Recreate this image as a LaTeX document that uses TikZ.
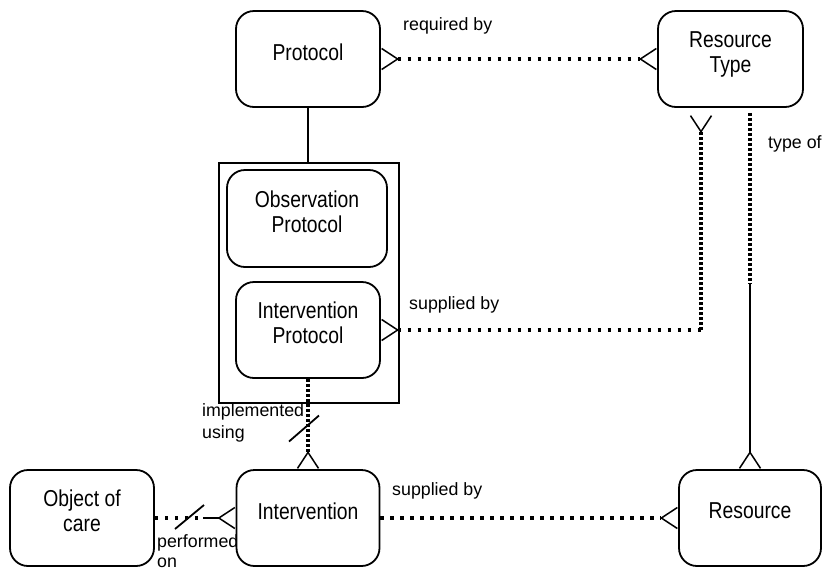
\documentclass[tikz,border=0pt]{standalone}
\usepackage{fontspec}
\setmainfont{Liberation Sans}
\newfontfamily\entfont[FakeStretch=0.84]{Liberation Sans}
\usetikzlibrary{arrows.meta}

\tikzset{
  entity/.style={draw,rounded corners=18pt,line width=1.8pt,minimum width=144pt,minimum height=96pt,inner sep=0pt},
  ename/.style={font=\entfont\fontsize{23}{25}\selectfont,align=center,text depth=0pt,inner sep=0pt},
  rel/.style={font=\fontsize{17.8}{22}\selectfont,align=left,anchor=north west,inner sep=0pt},
  hdots/.style={line width=3.2pt,dash pattern=on 3.2pt off 6.8pt},
  vdots/.style={line width=3.2pt,dash pattern=on 3.4pt off 1.6pt},
  link/.style={line width=1.8pt},
  crow/.tip={Straight Barb[reversed,length=16pt,width=21pt,line width=1.5pt]}
}

\begin{document}
\begin{tikzpicture}[x=1pt,y=-1pt]
    \useasboundingbox (0,0) rectangle (822,574);
    % entities
    \node[entity] (prot) at (308,59) {};
    \node[ename] (prot-t) at ([yshift=7pt]prot.center) {Protocol};
    \node[entity,minimum width=145pt] (rtype) at (730.5,59) {};
    \node[ename] (rtype-t) at ([yshift=7pt]rtype.center) {Resource\\Type};
    \node[draw,line width=1.8pt,minimum width=180pt,minimum height=240pt,inner sep=0pt] (grp) at (309,283) {};
    \node[entity,minimum width=160pt,minimum height=97pt] (oprot) at (307,218.5) {};
    \node[ename] (oprot-t) at ([yshift=7pt]oprot.center) {Observation\\Protocol};
    \node[entity] (iprot) at (308,330) {};
    \node[ename] (iprot-t) at ([yshift=7pt]iprot.center) {Intervention\\Protocol};
    \node[entity,minimum width=143pt] (interv) at (308,518) {};
    \node[ename] (interv-t) at ([yshift=7pt]interv.center) {Intervention};
    \node[entity] (ooc) at (82,518) {};
    \node[ename] (ooc-t) at ([yshift=7pt]ooc.center) {Object of\\care};
    \node[entity,minimum width=142pt] (res) at (750,518) {};
    \node[ename] (res-t) at ([yshift=7pt]res.center) {Resource};

    % relationships
    \draw[hdots,crow-crow] (prot.east) -- (rtype.west);
    \draw[link] (prot.south) -- (prot.south |- grp.north);

    \coordinate (sbend) at (701,330);
    \draw[hdots,crow-] (iprot.east) -- (sbend);
    \draw[vdots,-crow,shorten >=7pt] (sbend) -- (sbend |- rtype.south);

    \coordinate (tybreak) at (750,283);
    \draw[vdots,shorten <=5pt] (tybreak |- rtype.south) -- (tybreak);
    \draw[link,-crow] (tybreak) -- (tybreak |- res.north);

    \draw[vdots,-crow] (iprot.south) -- coordinate[pos=0.55] (impl) (interv.north);
    \draw[link] (impl) ++(-19,13) -- ++(30,-26);

    \coordinate (pobreak) at (203,518);
    \draw[hdots] (ooc.east) -- (pobreak);
    \draw[link,-crow] (pobreak) -- (interv.west);
    \draw[link] (pobreak) ++(-28,11) -- ++(29,-24);

    \draw[hdots,-crow] (interv.east) -- (res.west);

    % labels
    \node[rel] (reqby) at (403,17) {required by};
    \node[rel] (supby1) at (409,296) {supplied by};
    \node[rel] (typeof) at (768,135) {type of};
    \node[rel] (implby) at (202,403) {implemented\\using};
    \node[rel] (supby2) at (392,482) {supplied by};
    \node[rel] (perfon) at (157,534) {performed\\[-2pt]on};
\end{tikzpicture}
\end{document}
